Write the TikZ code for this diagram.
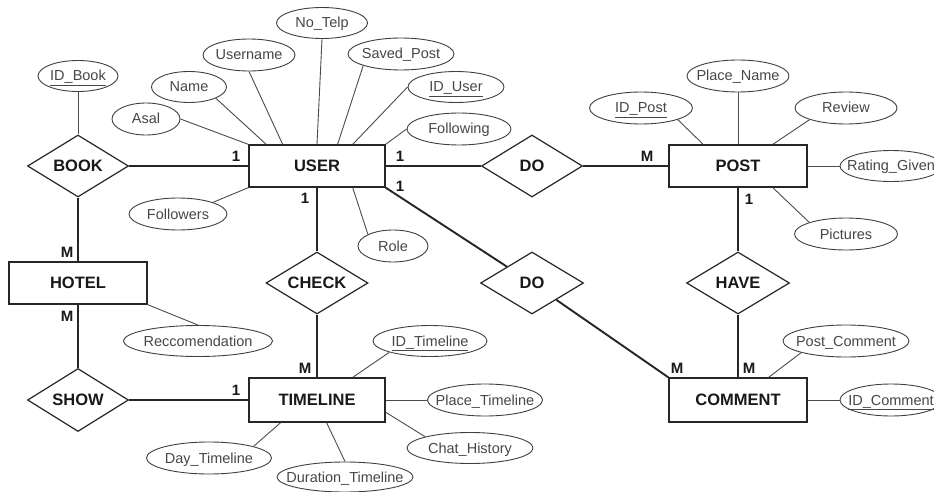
\documentclass[tikz,border=0pt]{standalone}
\usepackage{fontspec}
\setmainfont{Liberation Sans}
\usetikzlibrary{shapes.geometric,calc}
\newcommand{\atx}[1]{\makebox[0pt]{#1}}
\begin{document}
\begin{tikzpicture}[x=1pt,y=-1pt,
  ent/.style={draw=black!85,line width=1.3pt,rectangle,minimum height=42pt,inner sep=0pt,
    font=\fontsize{16.5}{18}\selectfont\bfseries,text=black!90,text height=11.8pt,text depth=0pt},
  rel/.style={draw=black!85,line width=1.2pt,diamond,inner sep=0pt,
    font=\fontsize{16.5}{18}\selectfont\bfseries,text=black!90,text height=11.8pt,text depth=0pt},
  attr/.style={draw=black!75,line width=0.9pt,ellipse,inner sep=0pt,
    font=\fontsize{14.5}{16}\selectfont,text=black!72,text height=10.5pt,text depth=0.5pt},
  card/.style={inner sep=0pt,font=\fontsize{15}{16}\selectfont\bfseries,text=black!90},
  rline/.style={draw=black!85,line width=1.9pt},
  aline/.style={draw=black!70,line width=0.9pt}]
\fill[white] (0,0) rectangle (934,492);
\useasboundingbox (0,0) rectangle (934,492);

% entities
\node[ent,minimum width=136pt] (user) at (317,166) {USER};
\node[ent,minimum width=138pt] (post) at (738,166) {POST};
\node[ent,minimum width=138pt] (hotel) at (78,283) {HOTEL};
\node[ent,minimum width=136pt,minimum height=44pt] (timeline) at (317,400) {TIMELINE};
\node[ent,minimum width=138pt,minimum height=44pt] (comment) at (738,400) {COMMENT};

% relationships
\node[rel,minimum width=101pt,minimum height=62pt] (book) at (78,166) {\atx{BOOK}};
\node[rel,minimum width=101pt,minimum height=62pt] (do1) at (532,166) {\atx{DO}};
\node[rel,minimum width=102pt,minimum height=62pt] (check) at (317,283) {\atx{CHECK}};
\node[rel,minimum width=103pt,minimum height=62pt] (do2) at (532,283) {\atx{DO}};
\node[rel,minimum width=103pt,minimum height=62pt] (have) at (738,283) {\atx{HAVE}};
\node[rel,minimum width=101pt,minimum height=63pt] (show) at (78,400) {\atx{SHOW}};

% attributes
\node[attr,minimum width=80pt,minimum height=31pt] (idbook) at (78,76) {\atx{\underline{ID\_Book}}};
\node[attr,minimum width=68pt,minimum height=32pt] (asal) at (146,119) {\atx{Asal}};
\node[attr,minimum width=75pt,minimum height=31pt] (name) at (189,87) {\atx{Name}};
\node[attr,minimum width=92pt,minimum height=32pt] (username) at (249,55) {\atx{Username}};
\node[attr,minimum width=91pt,minimum height=31pt] (notelp) at (322,23) {\atx{No\_Telp}};
\node[attr,minimum width=106pt,minimum height=32pt] (savedpost) at (401,54) {\atx{Saved\_Post}};
\node[attr,minimum width=96pt,minimum height=31pt] (iduser) at (456,87) {\atx{\underline{ID\_User}}};
\node[attr,minimum width=104pt,minimum height=32pt] (following) at (459,129) {\atx{Following}};
\node[attr,minimum width=98pt,minimum height=32pt] (followers) at (178,214) {\atx{Followers}};
\node[attr,minimum width=70pt,minimum height=32pt] (role) at (393,246) {\atx{Role}};
\node[attr,minimum width=103pt,minimum height=32pt] (idpost) at (641,108) {\atx{\underline{ID\_Post}}};
\node[attr,minimum width=102pt,minimum height=32pt] (placename) at (738,76) {\atx{Place\_Name}};
\node[attr,minimum width=102pt,minimum height=32pt] (review) at (846,108) {\atx{Review}};
\node[attr,minimum width=102pt,minimum height=31pt] (rating) at (891,166) {\atx{Rating\_Given}};
\node[attr,minimum width=103pt,minimum height=32pt] (pictures) at (846,234) {\atx{Pictures}};
\node[attr,minimum width=126pt,minimum height=32pt] (postcomment) at (846,341) {\atx{Post\_Comment}};
\node[attr,minimum width=102pt,minimum height=32pt] (idcomment) at (891,400) {\atx{\underline{ID\_Comment}}};
\node[attr,minimum width=114pt,minimum height=31pt] (idtimeline) at (430,341) {\atx{\underline{ID\_Timeline}}};
\node[attr,minimum width=115pt,minimum height=32pt] (placetimeline) at (485,400) {\atx{Place\_Timeline}};
\node[attr,minimum width=126pt,minimum height=31pt] (chathistory) at (470,448) {\atx{Chat\_History}};
\node[attr,minimum width=136pt,minimum height=30pt] (duration) at (345,477) {\atx{Duration\_Timeline}};
\node[attr,minimum width=125pt,minimum height=32pt] (daytimeline) at (209,458) {\atx{Day\_Timeline}};
\node[attr,minimum width=149pt,minimum height=31pt] (recc) at (198,341) {\atx{Reccomendation}};

% relationship connectors
\draw[rline] (book) -- (user);
\draw[rline] (book) -- (hotel);
\draw[rline] (hotel) -- (show);
\draw[rline] (show) -- (timeline);
\draw[rline] (user) -- (check);
\draw[rline] (check) -- (timeline);
\draw[rline] (user) -- (do1);
\draw[rline] (do1) -- (post);
\draw[rline] (user.south east) -- (do2);
\draw[rline] (do2) -- (comment.north west);
\draw[rline] (post) -- (have);
\draw[rline] (have) -- (comment);

% attribute connectors
\draw[aline] (book.north) -- (idbook.south);
\draw[aline] (user.north west) -- (asal.east);
\draw[aline] ($(user.north west)!0.13!(user.north east)$) -- (name.south east);
\draw[aline] ($(user.north west)!0.25!(user.north east)$) -- (username.south);
\draw[aline] (user.north) -- (notelp.south);
\draw[aline] ($(user.north west)!0.65!(user.north east)$) -- (savedpost.south west);
\draw[aline] ($(user.north west)!0.76!(user.north east)$) -- (iduser.west);
\draw[aline] (user.north east) -- (following.west);
\draw[aline] (user.south west) -- (followers.north east);
\draw[aline] ($(user.south west)!0.76!(user.south east)$) -- (role.north west);
\draw[aline] (hotel.south east) -- (recc.north);
\draw[aline] ($(timeline.north west)!0.76!(timeline.north east)$) -- (idtimeline.south west);
\draw[aline] (timeline.east) -- (placetimeline.west);
\draw[aline] ($(timeline.north east)!0.77!(timeline.south east)$) -- (chathistory.north west);
\draw[aline] ($(timeline.south west)!0.57!(timeline.south east)$) -- (duration.north);
\draw[aline] ($(timeline.south west)!0.235!(timeline.south east)$) -- (daytimeline.north east);
\draw[aline] ($(post.north west)!0.25!(post.north east)$) -- (idpost.south east);
\draw[aline] (post.north) -- (placename.south);
\draw[aline] ($(post.north west)!0.75!(post.north east)$) -- (review.south west);
\draw[aline] (post.east) -- (rating.west);
\draw[aline] ($(post.south west)!0.75!(post.south east)$) -- (pictures.north west);
\draw[aline] ($(comment.north west)!0.72!(comment.north east)$) -- (postcomment.south west);
\draw[aline] (comment.east) -- (idcomment.west);

% cardinalities
\node[card] (c1) at (236,156) {1};
\node[card] (c2) at (305,198) {1};
\node[card] (c3) at (400,156) {1};
\node[card] (c4) at (400,186) {1};
\node[card] (c5) at (647,156) {M};
\node[card] (c6) at (749,199) {1};
\node[card] (c7) at (67,252) {M};
\node[card] (c8) at (67,316) {M};
\node[card] (c9) at (305,368) {M};
\node[card] (c10) at (236,390) {1};
\node[card] (c11) at (677,368) {M};
\node[card] (c12) at (749,368) {M};
\end{tikzpicture}
\end{document}
